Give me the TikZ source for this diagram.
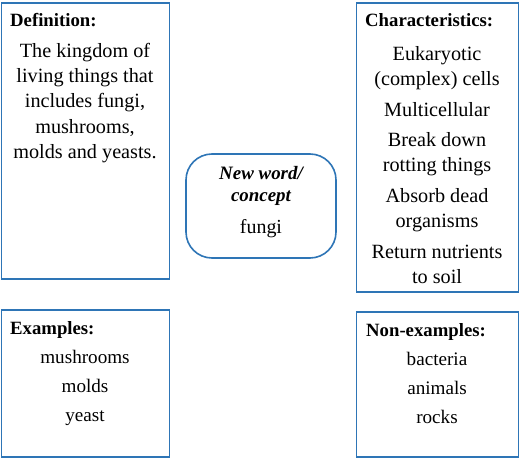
\documentclass[tikz,border=0pt]{standalone}
\usepackage{fontspec}
\setmainfont{Liberation Serif}
\definecolor{boxblue}{HTML}{2E75B6}
\begin{document}
\begin{tikzpicture}[x=1bp,y=-1bp,
  frame/.style={draw=boxblue, line width=1.6bp, inner sep=0pt, outer sep=0pt, rectangle},
  head/.style={anchor=west, inner sep=0pt, font=\fontsize{18.8}{22}\selectfont\bfseries},
  body/.style={align=center, inner sep=0pt, font=\fontsize{20.3}{25.5}\selectfont},
  items/.style={align=center, inner sep=0pt, font=\fontsize{19.2}{29}\selectfont}]
\useasboundingbox (0,0) rectangle (520,459);

% the five frames
\node[frame, minimum width=168bp, minimum height=276bp] (defbox) at (85.5,141) {};
\node[frame, minimum width=162bp, minimum height=289bp] (charbox) at (437.5,147.5) {};
\node[frame, rounded corners=26bp, minimum width=150bp, minimum height=104bp] (wordbox) at (261,206) {};
\node[frame, minimum width=168bp, minimum height=147bp] (exbox) at (85.5,383.5) {};
\node[frame, minimum width=162bp, minimum height=145bp] (nonbox) at (437.5,384.5) {};

% headings
\node[head] (defhead) at (10,20) {Definition:};
\node[head] (charhead) at (365,20) {Characteristics:};
\node[head] (exhead) at (10,330) {Examples:};
\node[head] (nonhead) at (366,332) {Non-examples:};

% definition text
\node[body] (deftext) at (85,103) {The kingdom of\\living things that\\includes fungi,\\mushrooms,\\molds and yeasts.};

% characteristics list
\node[body] (chartext) at (437,165) {Eukaryotic\\(complex) cells\\[5bp]Multicellular\\[5bp]Break down\\rotting things\\[5bp]Absorb dead\\organisms\\[5bp]Return nutrients\\to soil};

% central term
\node[align=center, inner sep=0pt, font=\fontsize{19}{23}\selectfont\bfseries\itshape] (wordtext) at (261,202)
  {New word/\\concept\\[9bp]\normalfont\fontsize{20}{23}\selectfont fungi};

% examples and non-examples
\node[items] (extext) at (85,388) {mushrooms\\molds\\yeast};
\node[items] (nontext) at (437,388) {bacteria\\animals\\rocks};
\end{tikzpicture}
\end{document}
